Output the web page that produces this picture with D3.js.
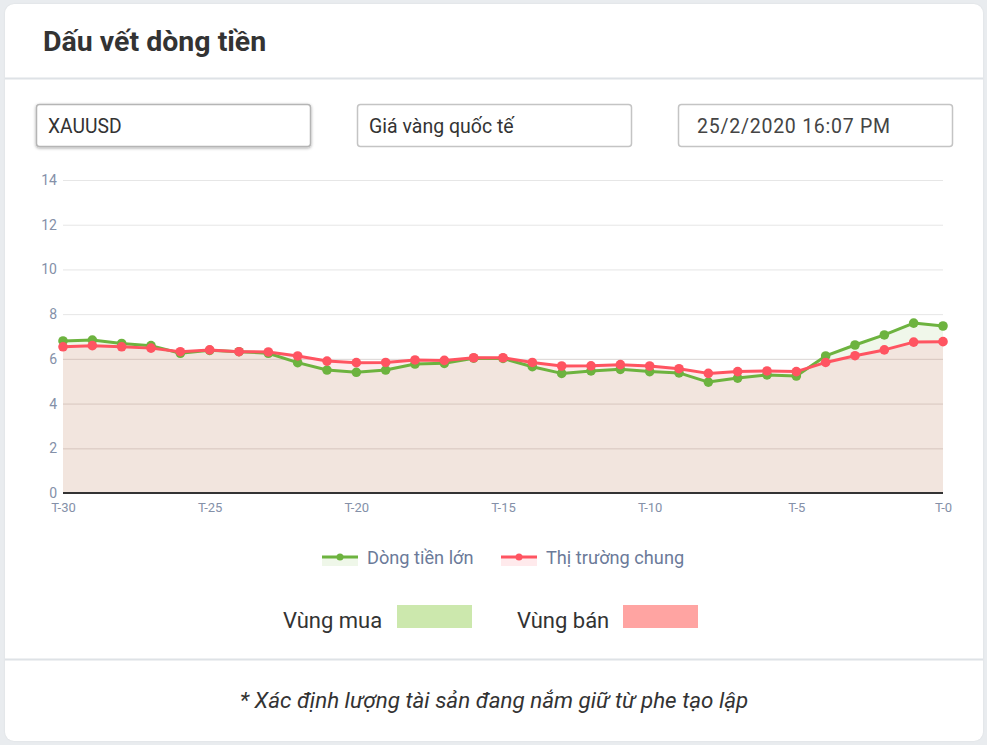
<!DOCTYPE html>
<html>
<head>
<meta charset="utf-8">
<script src="https://cdn.jsdelivr.net/npm/d3@7"></script>
<style>
  html, body { margin: 0; padding: 0; background: #e9ecef; }
  body { width: 987px; height: 745px; overflow: hidden; font-family: Roboto, "Noto Sans", sans-serif; }
  #card { position: absolute; left: 5px; top: 4px; width: 978px; height: 737px; background: #fff; border-radius: 9px; box-shadow: 0 0 2px rgba(0,0,0,0.08); }
</style>
</head>
<body>
<div id="card"></div>
<svg id="chart" width="987" height="745" style="position:absolute;left:0;top:0"></svg>
<script>
const labels = d3.range(30, -1, -1).map(d => "T-" + d);
const bigMoney = [6.80, 6.84, 6.69, 6.59, 6.25, 6.38, 6.32, 6.25, 5.83, 5.50, 5.40, 5.50, 5.77, 5.80, 6.03, 6.02, 5.65, 5.35, 5.46, 5.53, 5.43, 5.37, 4.96, 5.14, 5.28, 5.23, 6.13, 6.62, 7.07, 7.60, 7.47];
const market   = [6.54, 6.59, 6.54, 6.48, 6.32, 6.40, 6.32, 6.31, 6.13, 5.90, 5.83, 5.84, 5.95, 5.93, 6.05, 6.05, 5.84, 5.68, 5.69, 5.74, 5.68, 5.56, 5.35, 5.43, 5.46, 5.43, 5.84, 6.14, 6.40, 6.75, 6.77];
const yTicks = [0, 2, 4, 6, 8, 10, 12, 14];
const xTickLabels = ["T-30", "T-25", "T-20", "T-15", "T-10", "T-5", "T-0"];
const seriesNames = ["Dòng tiền lớn", "Thị trường chung"];

const svg = d3.select("#chart");

// Header
svg.append("text").attr("x", 43).attr("y", 51).text("Dấu vết dòng tiền")
  .attr("font-family", "Roboto").attr("font-weight", 700).attr("font-size", 28.5).attr("fill", "#333");
svg.append("line").attr("x1", 5).attr("x2", 983).attr("y1", 78.5).attr("y2", 78.5).attr("stroke", "#dee2e6").attr("stroke-width", 2);

// Input boxes
const boxes = [
  {x: 36, w: 274, text: "XAUUSD", shadow: true, size: 19.3},
  {x: 357, w: 274, text: "Giá vàng quốc tế", size: 19.5},
  {x: 678, w: 274, text: "25/2/2020 16:07 PM", pad: 19, size: 19.5, ls: 0.75, color: "#444"}
];
const defs = svg.append("defs");
const f = defs.append("filter").attr("id", "sh").attr("x", "-10%").attr("y", "-30%").attr("width", "120%").attr("height", "160%");
f.append("feDropShadow").attr("dx", 0).attr("dy", 1).attr("stdDeviation", 1.5).attr("flood-color", "#000").attr("flood-opacity", 0.35);
boxes.forEach(b => {
  svg.append("rect").attr("x", b.x + 0.5).attr("y", 104.5).attr("width", b.w).attr("height", 42).attr("rx", 3)
    .attr("fill", "#fff").attr("stroke", b.shadow ? "#b5b5b5" : "#c4c4c4").attr("stroke-width", 1.5)
    .attr("filter", b.shadow ? "url(#sh)" : null);
  svg.append("text").attr("x", b.x + (b.pad || 12)).attr("y", 132.5).text(b.text)
    .attr("font-family", "Roboto").attr("font-size", b.size).attr("letter-spacing", b.ls || 0).attr("fill", b.color || "#333");
});

// Chart
const x = d3.scalePoint().domain(labels).range([63, 943]);
const y = d3.scaleLinear().domain([0, 14]).range([493, 180]);

const g = svg.append("g");
// grid
g.selectAll(".grid").data(yTicks.filter(d => d > 0)).join("line")
  .attr("x1", 63).attr("x2", 943).attr("y1", d => y(d) + 0.5).attr("y2", d => y(d) + 0.5)
  .attr("stroke", "#e6e6e6").attr("stroke-width", 1);

const area = vals => d3.area().x((d, i) => x(labels[i])).y0(y(0)).y1(d => y(d))(vals);
g.append("path").attr("d", area(bigMoney)).attr("fill", "rgba(105,175,45,0.1)");
g.append("path").attr("d", area(market)).attr("fill", "rgba(250,190,194,0.3)");

// grid overlay lightly inside fills
g.selectAll(".grid2").data(yTicks.filter(d => d > 0 && d < 8)).join("line")
  .attr("x1", 63).attr("x2", 943).attr("y1", d => y(d) + 0.5).attr("y2", d => y(d) + 0.5)
  .attr("stroke", "rgba(120,60,40,0.07)").attr("stroke-width", 1.2);

// axes
const yAxis = d3.axisLeft(y).tickValues(yTicks).tickSize(0).tickPadding(6);
const ya = g.append("g").attr("transform", "translate(63,0)").call(yAxis);
ya.select(".domain").remove();
ya.selectAll("text").attr("font-family", "Roboto").attr("font-size", 14).attr("fill", "#8490a8");

const xAxis = d3.axisBottom(x).tickValues(xTickLabels).tickSize(0).tickPadding(10);
const xa = g.append("g").attr("transform", "translate(0,493)").call(xAxis);
xa.select(".domain").remove();
xa.selectAll("text").attr("font-family", "Roboto").attr("font-size", 13).attr("fill", "#8490a8");

g.append("line").attr("x1", 63).attr("x2", 943).attr("y1", 493).attr("y2", 493).attr("stroke", "#333").attr("stroke-width", 2);

const line = vals => d3.line().x((d, i) => x(labels[i])).y(d => y(d))(vals);
const colors = ["#6db33f", "#ff5461"];
[bigMoney, market].forEach((vals, k) => {
  g.append("path").attr("d", line(vals)).attr("fill", "none").attr("stroke", colors[k]).attr("stroke-width", 3).attr("stroke-linejoin", "round");
  g.selectAll(".pt" + k).data(vals).join("circle")
    .attr("cx", (d, i) => x(labels[i])).attr("cy", d => y(d)).attr("r", 4.8).attr("fill", colors[k]);
});

// Legend
const legend = [{x: 322, tx: 367, c: colors[0], bg: "rgba(120,190,70,0.12)"}, {x: 501, tx: 546, c: colors[1], bg: "rgba(255,84,97,0.12)"}];
legend.forEach((l, k) => {
  svg.append("rect").attr("x", l.x).attr("y", 557).attr("width", 36).attr("height", 9).attr("fill", l.bg);
  svg.append("line").attr("x1", l.x).attr("x2", l.x + 36).attr("y1", 557).attr("y2", 557).attr("stroke", l.c).attr("stroke-width", 3);
  svg.append("circle").attr("cx", l.x + 18).attr("cy", 557).attr("r", 3.5).attr("fill", l.c);
  svg.append("text").attr("x", l.tx).attr("y", 563.5).text(seriesNames[k])
    .attr("font-family", "Roboto").attr("font-size", 18.2).attr("fill", "#6b7a99");
});

// Zones
svg.append("text").attr("x", 283).attr("y", 628).text("Vùng mua").attr("font-family", "Roboto").attr("font-size", 22).attr("fill", "#333");
svg.append("rect").attr("x", 397).attr("y", 605).attr("width", 75).attr("height", 23).attr("fill", "#cce8ad");
svg.append("text").attr("x", 517).attr("y", 628).text("Vùng bán").attr("font-family", "Roboto").attr("font-size", 22).attr("fill", "#333");
svg.append("rect").attr("x", 623).attr("y", 605).attr("width", 75).attr("height", 23).attr("fill", "#ffa4a2");

// Footer
svg.append("line").attr("x1", 5).attr("x2", 983).attr("y1", 659.5).attr("y2", 659.5).attr("stroke", "#dee2e6").attr("stroke-width", 2);
svg.append("text").attr("x", 494).attr("y", 708).attr("text-anchor", "middle").text("* Xác định lượng tài sản đang nắm giữ từ phe tạo lập")
  .attr("font-family", "Roboto").attr("font-style", "italic").attr("font-size", 22.4).attr("fill", "#333");
</script>
</body>
</html>
